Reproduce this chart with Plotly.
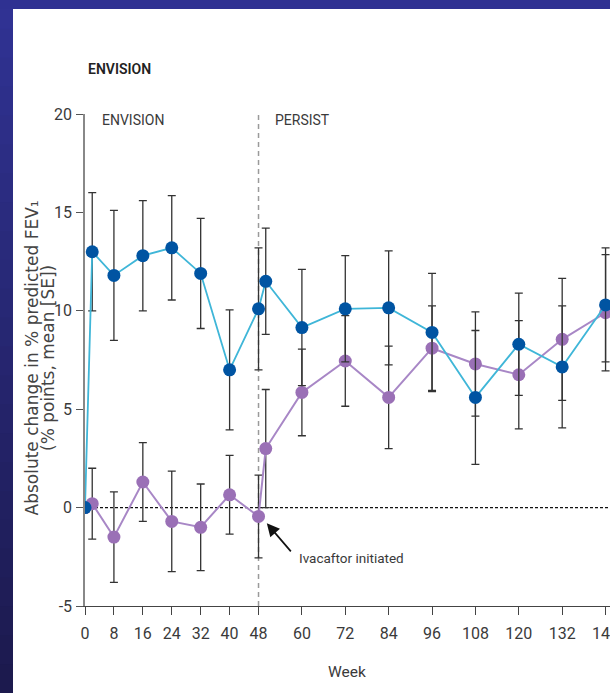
import plotly.graph_objects as go

# FEV1 change over ENVISION (weeks 0-48) and the PERSIST extension (weeks 48-144)
weeks = [0, 2, 8, 16, 24, 32, 40, 48, 50, 60, 72, 84, 96, 108, 120, 132, 144]

# ivacaftor throughout
iva_mean = [0, 13.0, 11.8, 12.8, 13.2, 11.9, 7.0, 10.1, 11.5, 9.15, 10.1, 10.15, 8.9, 5.6, 8.3, 7.15, 10.3]
iva_se = [None, 3.0, 3.3, 2.8, 2.65, 2.8, 3.05, 3.1, 2.7, 2.95, 2.7, 2.9, 3.0, 3.4, 2.6, 3.1, 2.9]

# placebo in ENVISION, ivacaftor from week 48
pbo_mean = [0, 0.2, -1.5, 1.3, -0.7, -1.0, 0.65, -0.45, 3.0, 5.85, 7.45, 5.6, 8.1, 7.3, 6.75, 8.55, 9.9]
pbo_se = [None, 1.8, 2.3, 2.0, 2.55, 2.2, 2.0, 2.1, 3.0, 2.2, 2.3, 2.6, 2.15, 2.65, 2.75, 3.1, 2.95]

x_ticks = [0, 8, 16, 24, 32, 40, 48, 60, 72, 84, 96, 108, 120, 132, 144]
y_ticks = [-5, 0, 5, 10, 15, 20]

W, H = 610, 693
L, R, T, B = 85, 0, 114, 87
PW, PH = W - L - R, H - T - B

NARROW = "Roboto, Liberation Sans, sans-serif"
WIDE = "DejaVu Sans, Verdana, sans-serif"
INK = "#3a3a3a"


def px_to_paper(px, py):
    return (px - L) / PW, (H - B - py) / PH


fig = go.Figure()

err_style = dict(type="data", visible=True, color="#333333", thickness=1.3, width=4)

fig.add_trace(go.Scatter(
    x=weeks, y=pbo_mean, mode="lines+markers", name="Placebo / ivacaftor",
    line=dict(color="#a887c6", width=2),
    marker=dict(color="#9a70b6", size=13),
    error_y=dict(array=pbo_se, **err_style),
    showlegend=False,
))
fig.add_trace(go.Scatter(
    x=weeks, y=iva_mean, mode="lines+markers", name="Ivacaftor",
    line=dict(color="#3fb6d8", width=1.8),
    marker=dict(color="#0054a2", size=13),
    error_y=dict(array=iva_se, **err_style),
    showlegend=False,
))

shapes = []

# frame of the slide: gradient strip on the left, band across the top
n_seg = 24
top_c = (0x30, 0x32, 0x93)
bot_c = (0x1c, 0x1a, 0x4e)
for i in range(n_seg):
    f = i / (n_seg - 1)
    c = tuple(round(a + (b - a) * f) for a, b in zip(top_c, bot_c))
    y0_px = H * i / n_seg
    y1_px = H * (i + 1) / n_seg + 1
    x0, y0 = px_to_paper(0, y1_px)
    x1, y1 = px_to_paper(13, y0_px)
    shapes.append(dict(type="rect", xref="paper", yref="paper", x0=x0, x1=x1, y0=y0, y1=y1,
                       fillcolor="rgb(%d,%d,%d)" % c, line=dict(width=0), layer="above"))
x0, y0 = px_to_paper(0, 9)
x1, y1 = px_to_paper(W, 0)
shapes.append(dict(type="rect", xref="paper", yref="paper", x0=x0, x1=x1, y0=y0, y1=y1,
                   fillcolor="#2f3192", line=dict(width=0), layer="above"))

# zero reference line
shapes.append(dict(type="line", xref="paper", yref="y", x0=0, x1=1, y0=0, y1=0,
                   line=dict(color="#111111", width=1.3, dash="3px,2px"), layer="below"))
# study boundary at week 48
shapes.append(dict(type="line", xref="x", yref="y", x0=48, x1=48, y0=-5, y1=20.1,
                   line=dict(color="#9a9a9a", width=1.5, dash="5px,4px"), layer="below"))

annotations = []
tx, ty = px_to_paper(86, 69)
annotations.append(dict(text="ENVISION", xref="paper", yref="paper", x=tx, y=ty,
                        xanchor="left", yanchor="middle", showarrow=False,
                        font=dict(family=NARROW, size=14, weight=600, color="#222222")))
annotations.append(dict(text="ENVISION", xref="x", yref="y", x=4.1, y=19.7,
                        xanchor="left", yanchor="middle", showarrow=False,
                        font=dict(family=NARROW, size=14, color=INK)))
annotations.append(dict(text="PERSIST", xref="x", yref="y", x=52.0, y=19.7,
                        xanchor="left", yanchor="middle", showarrow=False,
                        font=dict(family=NARROW, size=14, color=INK)))
annotations.append(dict(text="Ivacaftor initiated", xref="x", yref="y", x=58.6, y=-2.55,
                        xanchor="left", yanchor="middle", showarrow=False,
                        font=dict(family=NARROW, size=13.5, color=INK)))
annotations.append(dict(text="", xref="x", yref="y", x=50.3, y=-0.8,
                        axref="x", ayref="y", ax=57.3, ay=-2.3,
                        showarrow=True, arrowhead=2, arrowsize=1.5, arrowwidth=1.7,
                        arrowcolor="#111111", standoff=0))
wx, wy = px_to_paper(347, 672)
annotations.append(dict(text="Week", xref="paper", yref="paper", x=wx, y=wy,
                        xanchor="center", yanchor="middle", showarrow=False,
                        font=dict(family=NARROW, size=15.5, color=INK)))
# y-axis title, two rotated lines
for text, px in (("Absolute change in % predicted FEV₁", 31.5), ("(% points, mean [SE])", 48)):
    ax_, ay_ = px_to_paper(px, 358)
    annotations.append(dict(text=text, xref="paper", yref="paper", x=ax_, y=ay_, textangle=-90,
                            xanchor="center", yanchor="middle", showarrow=False,
                            font=dict(family=WIDE, size=17, color="#444444")))

fig.update_layout(
    width=W, height=H,
    margin=dict(l=L, r=R, t=T, b=B, pad=0),
    paper_bgcolor="white", plot_bgcolor="white",
    shapes=shapes, annotations=annotations,
    xaxis=dict(range=[0, PW / 3.615], tickvals=x_ticks, ticktext=[str(v) for v in x_ticks],
               automargin=False,
               showgrid=False, zeroline=False, showline=True, linecolor="#444444", linewidth=1.3,
               ticks="outside", ticklen=8, tickwidth=1.2, tickcolor="#444444",
               ticklabelstandoff=5, ticklabeloverflow="allow",
               tickfont=dict(family=NARROW, size=16, color=INK)),
    yaxis=dict(range=[-5, 20], tickvals=y_ticks, ticktext=[str(v) for v in y_ticks],
               automargin=False,
               showgrid=False, zeroline=False, showline=True, linecolor="#888888", linewidth=1.5,
               ticks="outside", ticklen=7, tickwidth=1.2, tickcolor="#555555",
               ticklabelstandoff=1,
               tickfont=dict(family=NARROW, size=16, color=INK)),
)

fig.write_html("out.html")
